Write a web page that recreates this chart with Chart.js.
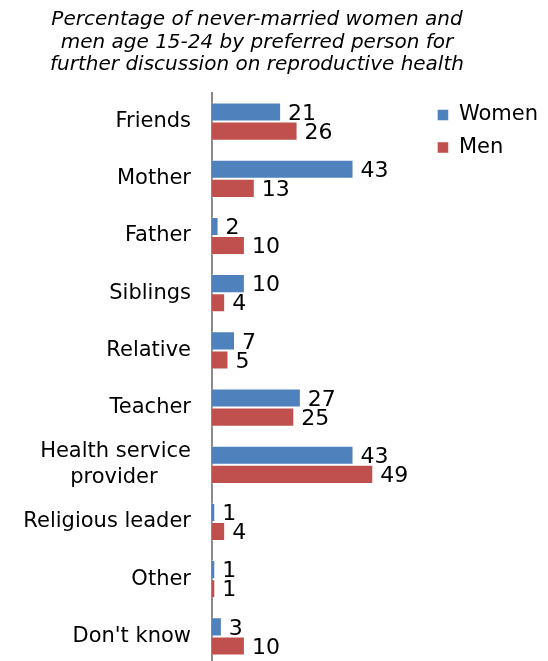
<!DOCTYPE html>
<html>
<head>
<meta charset="utf-8">
<script src="https://cdn.jsdelivr.net/npm/chart.js@4/dist/chart.umd.min.js"></script>
<style>
  html, body { margin: 0; padding: 0; background: #fff; overflow: hidden; }
  #wrap { position: relative; width: 548px; height: 665px; }
</style>
</head>
<body>
<div id="wrap"><canvas id="c" width="548" height="665"></canvas></div>
<script>
const categories = ['Friends', 'Mother', 'Father', 'Siblings', 'Relative', 'Teacher',
  ['Health service', 'provider     '], 'Religious leader', 'Other', "Don't know"];
const women = [21, 43, 2, 10, 7, 27, 43, 1, 1, 3];
const men = [26, 13, 10, 4, 5, 25, 49, 4, 1, 10];
const seriesNames = ['Women', 'Men'];
const titleLines = ['Percentage of never-married women and',
  'men age 15-24 by preferred person for',
  'further discussion on reproductive health'];

Chart.defaults.font.family = 'DejaVu Sans';
Chart.defaults.color = '#000';

const valueLabels = {
  id: 'valueLabels',
  afterDatasetsDraw(chart) {
    const ctx = chart.ctx;
    ctx.save();
    ctx.font = '22px "DejaVu Sans"';
    ctx.fillStyle = '#000';
    ctx.textAlign = 'left';
    ctx.textBaseline = 'middle';
    chart.data.datasets.forEach((ds, di) => {
      const meta = chart.getDatasetMeta(di);
      meta.data.forEach((el, i) => {
        ctx.fillText(String(ds.data[i]), el.x + 7, el.y + 2);
      });
    });
    ctx.restore();
  }
};

const titleShift = {
  id: 'titleShift',
  afterLayout(chart) {
    if (chart.titleBlock) { chart.titleBlock.right -= 34; }
  }
};

new Chart(document.getElementById('c'), {
  type: 'bar',
  data: {
    labels: categories,
    datasets: [
      { label: seriesNames[0], data: women, backgroundColor: '#4F81BD',
        borderColor: 'rgba(255,255,255,0.45)', borderWidth: 1 },
      { label: seriesNames[1], data: men, backgroundColor: '#C0504D',
        borderColor: 'rgba(255,255,255,0.45)', borderWidth: 1 }
    ]
  },
  options: {
    indexAxis: 'y',
    responsive: false,
    animation: false,
    events: [],
    layout: { padding: 0 },
    datasets: { bar: { categoryPercentage: 0.667, barPercentage: 1 } },
    scales: {
      x: { display: false, min: 0, max: 65 },
      y: {
        grid: { display: false, drawTicks: false },
        border: { display: true, color: '#8a8a8a', width: 2 },
        ticks: { padding: 21, font: { size: 21, lineHeight: 1.24 }, color: '#000' },
        afterFit(scale) { scale.width = 212; scale.paddingTop = 0; scale.paddingBottom = 0; }
      }
    },
    plugins: {
      title: {
        display: true,
        text: titleLines,
        color: '#000',
        font: { size: 20, style: 'italic', weight: 'normal', lineHeight: 1.12 },
        padding: { top: 9, bottom: 16.8 }
      },
      legend: {
        display: true,
        position: 'right',
        align: 'start',
        fullSize: false,
        labels: { boxWidth: 11, boxHeight: 11, padding: 11.5, color: '#000',
          font: { size: 21 } }
      },
      tooltip: { enabled: false }
    }
  },
  plugins: [valueLabels, titleShift]
});
</script>
</body>
</html>
